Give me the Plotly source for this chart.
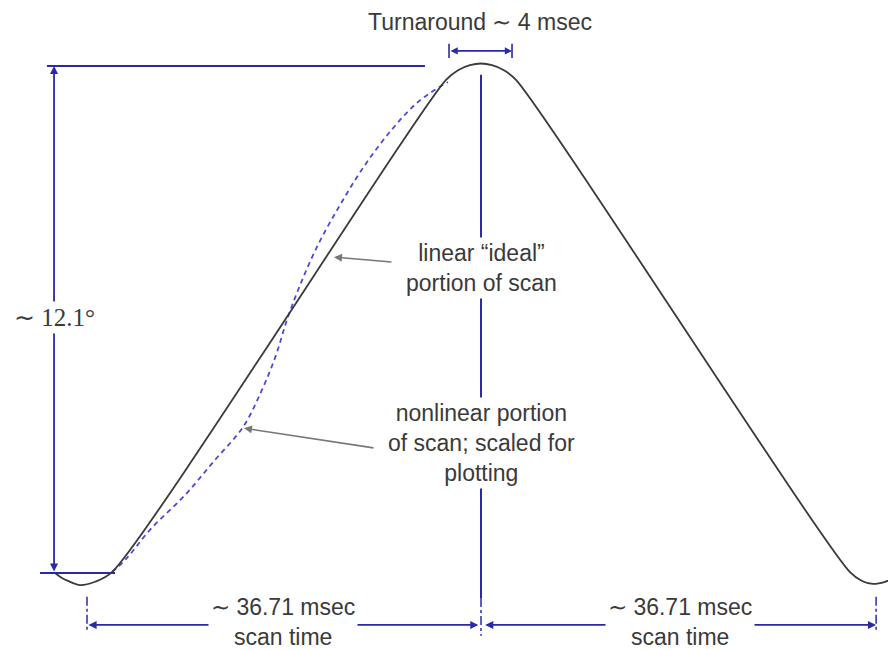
import plotly.graph_objects as go

# Mirror scan: time in msec, mirror angle in degrees
HALF_PERIOD = 36.71
AMPLITUDE = 12.1

# solid curve: commanded scan with rounded turnarounds
SCAN_T = [-2.98, -2.33, -1.77, -0.65, 0.75, 2.33, 33.45, 34.57, 35.68, 36.71,
          37.73, 38.85, 39.97, 71.09, 72.21, 73.23, 74.35, 75.37, 76.2]
SCAN_DEG = [0.0, -0.12, -0.19, -0.29, -0.21, 0.02, 11.77, 12.0, 12.12, 12.16,
            12.12, 12.0, 11.77, 0.02, -0.19, -0.26, -0.21, -0.10, 0.06]

# dashed curve: measured nonlinear portion (scaled)
NONLIN_T = [2.33, 3.73, 5.87, 9.13, 11.93, 14.53, 16.30, 17.61, 18.63, 19.85,
            21.52, 23.57, 25.72, 28.23, 30.84, 33.63]
NONLIN_DEG = [0.02, 0.36, 1.03, 1.86, 2.70, 3.48, 4.37, 5.20, 6.04, 6.87,
              7.83, 8.78, 9.67, 10.53, 11.24, 11.72]

TURN_START, TURN_END = 33.73, 39.60
TURN_LABEL = "Turnaround ∼ 4 msec"
AMP_LABEL = "∼ 12.1°"
TIME_LABEL = "∼ 36.71 msec<br>scan time"
LINEAR_LABEL = "linear “ideal”<br>portion of scan"
NONLIN_LABEL = "nonlinear portion<br>of scan; scaled for<br>plotting"

BLUE = "#2a2aa8"
DASH_BLUE = "#4a4ad8"
INK = "#3a3a3a"
GREY = "#777777"
TEXT = "#3a3a3a"
SANS = "Liberation Sans, Arial, sans-serif"
SERIF = "Liberation Serif, Times New Roman, serif"

DIM_Y = -1.24      # level of the scan-time dimension lines
AMP_X = -3.07      # x of the amplitude dimension line
TURN_Y = 12.46

fig = go.Figure()


def seg(xs, ys, color=BLUE, width=2, dash="solid"):
    fig.add_trace(go.Scatter(x=xs, y=ys, mode="lines", hoverinfo="skip",
                             showlegend=False,
                             line=dict(color=color, width=width, dash=dash)))


# extension lines
seg([-3.73, 31.49], [AMPLITUDE, AMPLITUDE])
seg([-4.38, 2.61], [0, 0])
seg([HALF_PERIOD, HALF_PERIOD], [11.89, -0.6])
seg([HALF_PERIOD, HALF_PERIOD], [-0.6, -1.5], dash="dashdot", width=1.5)
seg([0, 0], [-0.57, -1.41], dash="dashdot", width=1.5)
seg([2 * HALF_PERIOD + 0.1, 2 * HALF_PERIOD + 0.1], [-0.57, -1.41],
    dash="dashdot", width=1.5)

# turnaround bracket ticks
seg([TURN_START, TURN_START], [12.29, 12.63], width=1.6)
seg([TURN_END, TURN_END], [12.29, 12.63], width=1.6)

# curves
fig.add_trace(go.Scatter(x=NONLIN_T, y=NONLIN_DEG, mode="lines", hoverinfo="skip",
                         showlegend=False, line_shape="spline",
                         line=dict(color=DASH_BLUE, width=1.8, dash="5px,4px")))
fig.add_trace(go.Scatter(x=SCAN_T, y=SCAN_DEG, mode="lines", hoverinfo="skip",
                         showlegend=False, line_shape="spline",
                         line=dict(color=INK, width=1.8, smoothing=0.8)))


def dim_arrow(x0, y0, x1, y1, width=1.8):
    fig.add_annotation(x=x1, y=y1, ax=x0, ay=y0, xref="x", yref="y",
                       axref="x", ayref="y", text="", showarrow=True,
                       arrowside="end+start", arrowhead=2, startarrowhead=2,
                       arrowsize=0.9, startarrowsize=0.9, arrowwidth=width,
                       arrowcolor=BLUE, standoff=0, startstandoff=0)


dim_arrow(AMP_X, 0, AMP_X, AMPLITUDE)
dim_arrow(0, DIM_Y, HALF_PERIOD - 0.25, DIM_Y)
dim_arrow(HALF_PERIOD + 0.25, DIM_Y, 2 * HALF_PERIOD + 0.1, DIM_Y)
dim_arrow(TURN_START, TURN_Y, TURN_END, TURN_Y, width=1.6)

# pointer arrows
fig.add_annotation(x=22.92, y=7.54, ax=28.51, ay=7.42, xref="x", yref="y",
                   axref="x", ayref="y", text="", showarrow=True, arrowhead=2,
                   arrowsize=1, arrowwidth=1.6, arrowcolor=GREY, standoff=1)
fig.add_annotation(x=14.53, y=3.46, ax=26.83, ay=2.98, xref="x", yref="y",
                   axref="x", ayref="y", text="", showarrow=True, arrowhead=2,
                   arrowsize=1, arrowwidth=1.6, arrowcolor=GREY, standoff=1)


def label(x, y, text, family=SANS, size=23):
    fig.add_annotation(x=x, y=y, xref="x", yref="y", text=text, showarrow=False,
                       bgcolor="white", borderpad=2,
                       font=dict(family=family, size=size, color=TEXT))


label(36.62, 13.15, TURN_LABEL)
label(AMP_X, 6.09, AMP_LABEL, family=SERIF, size=25)
label(18.26, -1.17, TIME_LABEL)
label(55.25, -1.17, TIME_LABEL)
label(36.71, 7.28, LINEAR_LABEL)
label(36.71, 3.10, NONLIN_LABEL)

fig.update_layout(
    width=896, height=650,
    margin=dict(l=0, r=0, t=0, b=0),
    paper_bgcolor="white", plot_bgcolor="white",
    showlegend=False,
)
# page body has an 8px margin, so the axis ranges are shifted to compensate
fig.update_xaxes(range=[-7.36, 76.12], visible=False, fixedrange=True)
fig.update_yaxes(range=[-2.029, 13.484], visible=False, fixedrange=True)

fig.write_html("out.html")
